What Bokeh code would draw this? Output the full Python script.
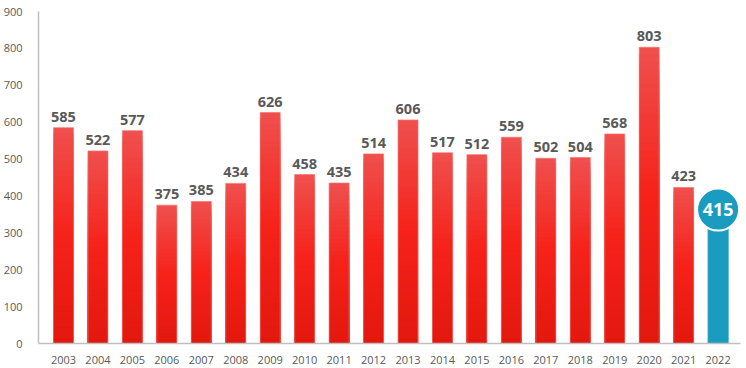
from bokeh.plotting import figure
from bokeh.models import FixedTicker, ColumnDataSource
from bokeh.core.properties import value
from bokeh.embed import file_html
from bokeh.resources import INLINE

years = ["2003", "2004", "2005", "2006", "2007", "2008", "2009", "2010", "2011", "2012",
         "2013", "2014", "2015", "2016", "2017", "2018", "2019", "2020", "2021", "2022"]
counts = [585, 522, 577, 375, 385, 434, 626, 458, 435, 514,
          606, 517, 512, 559, 502, 504, 568, 803, 423, 415]
y_ticks = [0, 100, 200, 300, 400, 500, 600, 700, 800, 900]

p = figure(width=746, height=368, output_backend="svg", toolbar_location=None,
           x_range=(-0.725, 19.65), y_range=(0, 900),
           min_border_left=37, min_border_right=6, min_border_top=11, min_border_bottom=25)
p.outline_line_color = None
p.xgrid.grid_line_color = None
p.ygrid.grid_line_color = None
p.background_fill_color = "white"

# gradient bars: overlapping bars from the base, tallest first
n = 40
top_c = (239, 80, 78)
mid_c = (246, 34, 26)
bot_c = (226, 24, 14)

def lerp(a, b, t):
    return tuple(int(round(a[i] + (b[i] - a[i]) * t)) for i in range(3))

xs, tops, cols = [], [], []
red_idx = list(range(len(years) - 1))
for k in range(n - 1, -1, -1):
    f = (k + 0.5) / n
    if f < 0.5:
        c = lerp(bot_c, mid_c, f / 0.5)
    else:
        c = lerp(mid_c, top_c, (f - 0.5) / 0.5)
    for i in red_idx:
        xs.append(i)
        tops.append(counts[i] * (k + 1) / n)
        cols.append("#%02x%02x%02x" % c)
src = ColumnDataSource(dict(x=xs, top=tops, color=cols))
p.vbar(x="x", top="top", width=0.58, fill_color="color", line_color=None, source=src)
p.vbar(x=red_idx, top=[counts[i] for i in red_idx], width=0.58, fill_color=None,
       line_color="#f47470", line_alpha=0.7, line_width=1)

last = len(years) - 1
p.vbar(x=[last], top=[counts[last]], width=0.58, fill_color="#1a9cc0", line_color="#1a9cc0")

# labels
lab = ColumnDataSource(dict(x=red_idx, y=[counts[i] for i in red_idx],
                            t=[str(counts[i]) for i in red_idx]))
p.text(x="x", y="y", text="t", source=lab, text_align="center", text_baseline="bottom",
       y_offset=-6, text_font=value("Open Sans"), text_font_style="bold",
       text_font_size="14.5px", text_color="#595959")

# bubble for last value
bubble_y = counts[last] - 52
p.circle(x=[last], y=[bubble_y], radius=21, radius_units="screen",
         fill_color="#1a9cc0", line_color="white", line_width=2)
p.text(x=[last], y=[bubble_y], text=[str(counts[last])], text_align="center",
       text_baseline="middle", text_font=value("Open Sans"), text_font_style="bold",
       text_font_size="18px", text_color="white")

p.xaxis.ticker = FixedTicker(ticks=list(range(len(years))))
p.xaxis.major_label_overrides = {i: y for i, y in enumerate(years)}
p.yaxis.ticker = FixedTicker(ticks=y_ticks)
for ax in (p.xaxis[0], p.yaxis[0]):
    ax.axis_line_color = "#bfbfbf"
    ax.axis_line_width = 1.5
    ax.major_tick_line_color = None
    ax.minor_tick_line_color = None
    ax.major_label_text_color = "#595959"
    ax.major_label_text_font = "Open Sans"
    ax.major_label_text_font_size = "11px"
p.xaxis.major_label_standoff = 6
p.yaxis.major_label_standoff = 10

open("out.html", "w").write(file_html(p, INLINE))
